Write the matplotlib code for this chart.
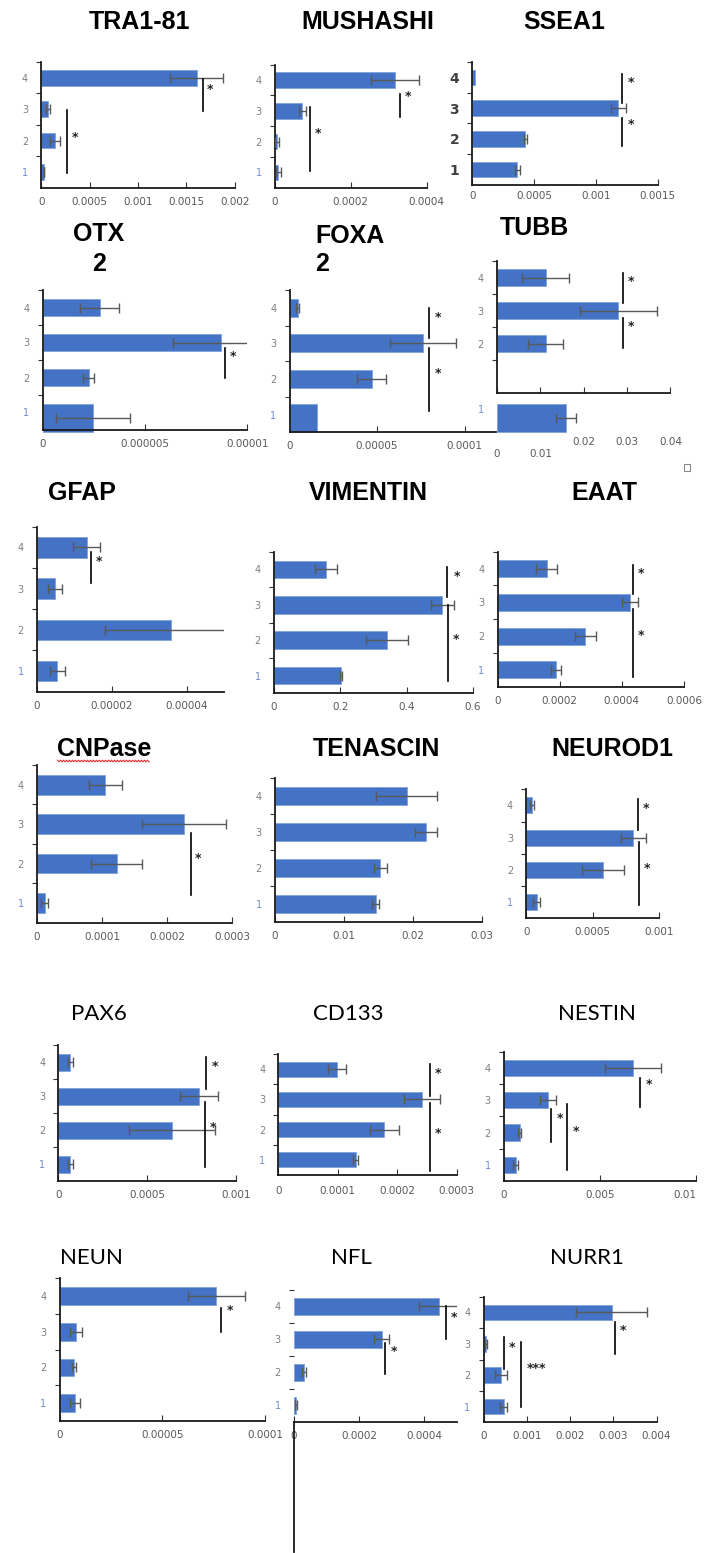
import matplotlib
matplotlib.use('Agg')
import matplotlib.pyplot as plt
import numpy as np

W, H, DPI = 704, 1553, 100

GROUPS = ['1', '2', '3', '4']

# ---- values for groups 1..4 ----
TRA1_81 = [0.000028, 0.000144, 0.000069, 0.001605]
TRA1_81_ERR = [0.000005, 0.000053, 0.00002, 0.00027]
MUSHASHI = [0.0000095, 0.0000058, 0.0000722, 0.000317]
MUSHASHI_ERR = [0.000006, 0.000006, 0.0000088, 0.000063]
SSEA1 = [0.000363, 0.000429, 0.00118, 0.000018]
SSEA1_ERR = [0.000022, 0.00001, 0.00006, 0.0]
OTX2 = [2.46e-6, 2.24e-6, 8.73e-6, 2.78e-6]
OTX2_ERR = [1.82e-6, 0.25e-6, 2.37e-6, 0.96e-6]
FOXA2 = [1.59e-5, 4.69e-5, 7.62e-5, 4.6e-6]
FOXA2_ERR = [0.0, 0.81e-5, 1.9e-5, 0.8e-6]
TUBB = [0.0159, 0.0112, 0.028, 0.0112]
TUBB_ERR = [0.0024, 0.004, 0.0088, 0.0055]
GFAP = [0.54e-5, 3.57e-5, 0.49e-5, 1.33e-5]
GFAP_ERR = [0.2e-5, 1.74e-5, 0.19e-5, 0.36e-5]
VIMENTIN = [0.203, 0.341, 0.508, 0.156]
VIMENTIN_ERR = [0.003, 0.063, 0.034, 0.033]
EAAT = [0.000188, 0.000282, 0.000426, 0.000158]
EAAT_ERR = [0.000015, 0.000034, 0.000025, 0.000034]
CNPASE = [0.0000124, 0.000123, 0.000226, 0.0001055]
CNPASE_ERR = [0.0000055, 0.000039, 0.000065, 0.000025]
TENASCIN = [0.0146, 0.0153, 0.0219, 0.0191]
TENASCIN_ERR = [0.00055, 0.0009, 0.0016, 0.0044]
NEUROD1 = [0.0000775, 0.000578, 0.000804, 0.0000437]
NEUROD1_ERR = [0.000025, 0.000157, 0.000094, 0.000015]
PAX6 = [0.0000682, 0.000641, 0.000792, 0.0000682]
PAX6_ERR = [0.000015, 0.00024, 0.000108, 0.000015]
CD133 = [0.00013, 0.000178, 0.000242, 0.0000983]
CD133_ERR = [0.000004, 0.0000246, 0.00003, 0.000015]
NESTIN = [0.00061, 0.00082, 0.00229, 0.00673]
NESTIN_ERR = [0.00015, 0.0001, 0.00043, 0.00145]
NEUN = [0.0000075, 0.000007, 0.0000081, 0.0000764]
NEUN_ERR = [0.0000025, 0.000001, 0.0000029, 0.000014]
NFL = [0.000007, 0.0000304, 0.000269, 0.000446]
NFL_ERR = [0.000003, 0.000005, 0.0000235, 0.000063]
NURR1 = [0.000467, 0.000396, 0.000053, 0.00296]
NURR1_ERR = [0.00008, 0.00014, 0.00003, 0.00082]

# ---- x-axis ticks ----
TRA1_81_TICKS = [0, 0.0005, 0.001, 0.0015, 0.002]
MUSHASHI_TICKS = [0, 0.0002, 0.0004]
SSEA1_TICKS = [0, 0.0005, 0.001, 0.0015]
OTX2_TICKS = [0, 0.000005, 0.00001]
FOXA2_TICKS = [0, 0.00005, 0.0001]
TUBB_TICKS = [0, 0.01, 0.02, 0.03, 0.04]
GFAP_TICKS = [0, 0.00002, 0.00004]
VIMENTIN_TICKS = [0, 0.2, 0.4, 0.6]
EAAT_TICKS = [0, 0.0002, 0.0004, 0.0006]
CNPASE_TICKS = [0, 0.0001, 0.0002, 0.0003]
TENASCIN_TICKS = [0, 0.01, 0.02, 0.03]
NEUROD1_TICKS = [0, 0.0005, 0.001]
PAX6_TICKS = [0, 0.0005, 0.001]
CD133_TICKS = [0, 0.0001, 0.0002, 0.0003]
NESTIN_TICKS = [0, 0.005, 0.01]
NEUN_TICKS = [0, 0.00005, 0.0001]
NFL_TICKS = [0, 0.0002, 0.0004]
NURR1_TICKS = [0, 0.001, 0.002, 0.003, 0.004]

# ---- significance brackets: (x, y_from, y_to, star_x, star_y, text) ----
TRA1_81_SIG = [(0.00167, 2.94, 3.96, 0.001744, 3.64, '*'), (0.00027, 0.965, 2.97, 0.000348, 2.11, '*')]
MUSHASHI_SIG = [(0.000329, 2.80, 3.55, 0.00035, 3.45, '*'), (0.0000922, 1.05, 3.125, 0.000114, 2.28, '*')]
SSEA1_SIG = [(0.00121, 3.18, 4.11, 0.001286, 3.82, '*'), (0.00121, 1.76, 2.69, 0.001286, 2.47, '*')]
OTX2_SIG = [(8.93e-6, 1.99, 2.85, 9.32e-6, 2.59, '*')]
FOXA2_SIG = [(7.95e-5, 3.14, 4.0, 8.46e-5, 3.74, '*'), (7.95e-5, 1.1, 2.88, 8.46e-5, 2.14, '*')]
TUBB_SIG = [(0.0291, 3.22, 4.13, 0.0309, 3.87, '*'), (0.0291, 1.86, 2.79, 0.0309, 2.52, '*')]
GFAP_SIG = [(1.45e-5, 3.13, 3.89, 1.65e-5, 3.65, '*')]
VIMENTIN_SIG = [(0.522, 3.23, 4.08, 0.553, 3.79, '*'), (0.526, 0.86, 2.99, 0.549, 2.03, '*')]
EAAT_SIG = [(0.000437, 3.25, 4.11, 0.000463, 3.84, '*'), (0.000437, 0.78, 2.79, 0.000463, 2.01, '*')]
CNPASE_SIG = [(0.000237, 1.2, 2.78, 0.000248, 2.13, '*')]
TENASCIN_SIG = []
NEUROD1_SIG = [(0.000838, 3.24, 4.2, 0.0009, 3.91, '*'), (0.000845, 0.91, 2.88, 0.000906, 2.05, '*')]
PAX6_SIG = [(0.000831, 3.2, 4.16, 0.000881, 3.86, '*'), (0.000828, 0.9, 2.83, 0.000874, 2.07, '*')]
CD133_SIG = [(0.000255, 3.12, 4.17, 0.000268, 3.84, '*'), (0.000255, 0.64, 2.88, 0.000268, 1.88, '*')]
NESTIN_SIG = [(0.00708, 2.8, 3.68, 0.00755, 3.49, '*'), (0.00248, 1.71, 2.73, 0.00292, 2.44, '*'),
              (0.00327, 0.84, 2.87, 0.00374, 2.02, '*')]
NEUN_SIG = [(0.0000788, 3.0, 3.66, 0.000083, 3.61, '*')]
NFL_SIG = [(0.000465, 3.0, 4.01, 0.000492, 3.67, '*'), (0.000279, 1.95, 2.9, 0.000306, 2.62, '*')]
NURR1_SIG = [(0.00304, 2.67, 3.7, 0.00323, 3.41, '*'), (0.000467, 2.19, 3.21, 0.000655, 2.89, '*'),
             (0.000863, 0.98, 3.05, 0.00123, 2.22, '***')]

PANELS = [
    ('TRA1-81', TRA1_81, TRA1_81_ERR, TRA1_81_SIG, TRA1_81_TICKS),
    ('MUSHASHI', MUSHASHI, MUSHASHI_ERR, MUSHASHI_SIG, MUSHASHI_TICKS),
    ('SSEA1', SSEA1, SSEA1_ERR, SSEA1_SIG, SSEA1_TICKS),
    ('OTX2', OTX2, OTX2_ERR, OTX2_SIG, OTX2_TICKS),
    ('FOXA2', FOXA2, FOXA2_ERR, FOXA2_SIG, FOXA2_TICKS),
    ('TUBB', TUBB, TUBB_ERR, TUBB_SIG, TUBB_TICKS),
    ('GFAP', GFAP, GFAP_ERR, GFAP_SIG, GFAP_TICKS),
    ('VIMENTIN', VIMENTIN, VIMENTIN_ERR, VIMENTIN_SIG, VIMENTIN_TICKS),
    ('EAAT', EAAT, EAAT_ERR, EAAT_SIG, EAAT_TICKS),
    ('CNPase', CNPASE, CNPASE_ERR, CNPASE_SIG, CNPASE_TICKS),
    ('TENASCIN', TENASCIN, TENASCIN_ERR, TENASCIN_SIG, TENASCIN_TICKS),
    ('NEUROD1', NEUROD1, NEUROD1_ERR, NEUROD1_SIG, NEUROD1_TICKS),
    ('PAX6', PAX6, PAX6_ERR, PAX6_SIG, PAX6_TICKS),
    ('CD133', CD133, CD133_ERR, CD133_SIG, CD133_TICKS),
    ('NESTIN', NESTIN, NESTIN_ERR, NESTIN_SIG, NESTIN_TICKS),
    ('NEUN', NEUN, NEUN_ERR, NEUN_SIG, NEUN_TICKS),
    ('NFL', NFL, NFL_ERR, NFL_SIG, NFL_TICKS),
    ('NURR1', NURR1, NURR1_ERR, NURR1_SIG, NURR1_TICKS),
]

# ---- layout (pixel boxes: left, top, right, bottom) ----
LAYOUT = {
    'TRA1-81': dict(box=(41.3, 62, 234.8, 187.7)),
    'MUSHASHI': dict(box=(274.8, 64.6, 426.6, 187.9)),
    'SSEA1': dict(box=(472.4, 62, 657.8, 185), xpad=4, bold_y=True),
    'OTX2': dict(box=(42.7, 290, 247.4, 430), pos=[0.84, 2, 3, 4], heights=[0.8, 0.5, 0.5, 0.5]),
    'FOXA2': dict(box=(289.6, 290, 496, 432.3), xmax=1.18e-4, pos=[0.9, 2, 3, 4], heights=[0.8, 0.5, 0.5, 0.5]),
    'TUBB': dict(box=(497.1, 261, 670.4, 393.3), pos=[-0.24, 2, 3, 4], heights=[0.85, 0.5, 0.5, 0.5],
                 xpad=31.5, shifted=[0, 1], ylabel_one=0.0),
    'GFAP': dict(box=(36.8, 526.7, 223.6, 691.7), xmax=4.98e-5),
    'VIMENTIN': dict(box=(273.9, 551.7, 472.8, 693.3)),
    'EAAT': dict(box=(497.5, 551.7, 683.9, 686.7)),
    'CNPase': dict(box=(36.8, 765, 232.1, 922.7)),
    'TENASCIN': dict(box=(274.8, 778.3, 481.8, 921.7)),
    'NEUROD1': dict(box=(526.3, 789.3, 659.2, 918.3)),
    'PAX6': dict(box=(58.4, 1045, 235.7, 1181)),
    'CD133': dict(box=(278.4, 1054, 456.7, 1175), xpad=8),
    'NESTIN': dict(box=(503.8, 1051.7, 696, 1181), last_right=True),
    'NEUN': dict(box=(59.7, 1278.3, 264.9, 1421)),
    'NFL': dict(box=(294.1, 1289.8, 456.9, 1422), xmax=0.0005, long_axis=1552),
    'NURR1': dict(box=(483.6, 1296.7, 656.5, 1422.3)),
}

TITLES_BOLD = [('TRA1-81', 139.2, 21.7), ('MUSHASHI', 367.5, 21.7), ('SSEA1', 564.2, 21.7),
               ('OTX', 98.4, 234), ('2', 98.8, 264), ('FOXA', 350, 235.7), ('2', 321.7, 264),
               ('TUBB', 534.3, 227.7), ('GFAP', 82.4, 493.3), ('VIMENTIN', 368.2, 493.3),
               ('EAAT', 604, 493.3), ('CNPase', 104, 749.3), ('TENASCIN', 376, 749.3),
               ('NEUROD1', 612.3, 749.3)]
TITLES_LIGHT = [('PAX6', 99.2, 1014), ('CD133', 348.5, 1014), ('NESTIN', 597.2, 1014),
                ('NEUN', 91.6, 1258.3), ('NFL', 351.4, 1258.3), ('NURR1', 586.9, 1258.3)]

BAR = '#4472C4'
EDGE = '#7FA3DC'
ERRC = '#595959'
TICKC = '#595959'
YLABC = '#7F7F7F'
ONEC = '#6F8FCA'


def fmt(v):
    return np.format_float_positional(v, trim='-')


fig = plt.figure(figsize=(W / DPI, H / DPI), dpi=DPI)
fig.patch.set_facecolor('white')

for name, vals, errs, sigs, ticks in PANELS:
    lay = LAYOUT[name]
    L, T, R, B = lay['box']
    ax = fig.add_axes([L / W, 1 - B / H, (R - L) / W, (B - T) / H])
    ax.set_facecolor('none')
    pos = lay.get('pos', [1, 2, 3, 4])
    hts = lay.get('heights', [0.5] * 4)
    ax.set_xlim(0, lay.get('xmax', ticks[-1]))
    ax.set_ylim(0.5, 4.5)
    bars = ax.barh(pos, vals, height=hts, color=BAR, edgecolor=EDGE, linewidth=0.6, zorder=2)
    for b in bars:
        b.set_clip_on(False)
    for p, v, e in zip(pos, vals, errs):
        if e <= 0:
            continue
        inside = 0.5 <= p <= 4.5
        eb = ax.errorbar(v, p, xerr=e, fmt='none', ecolor=ERRC, elinewidth=1.0,
                         capsize=3.5, capthick=1.0, zorder=3)
        for a in eb.lines[1]:
            a.set_clip_on(inside)
        for c in eb.lines[2]:
            c.set_clip_on(inside)
    for (x, y0, y1, xs, ys, lab) in sigs:
        ax.plot([x, x], [y0, y1], color='black', lw=1.2, clip_on=False, zorder=4)
        ax.text(xs, ys, lab, ha='center', va='center', fontsize=9, fontweight='bold',
                color='#222222', clip_on=False, zorder=4)

    # spines
    for s in ['top', 'right']:
        ax.spines[s].set_visible(False)
    for s in ['left', 'bottom']:
        ax.spines[s].set_linewidth(1.3)
        ax.spines[s].set_color('#1a1a1a')

    # x ticks
    ax.set_xticks(ticks)
    labels = [fmt(t) for t in ticks]
    for i in lay.get('shifted', []):
        labels[i] = '\n' + labels[i]
    ax.set_xticklabels(labels)
    ax.tick_params(axis='x', direction='in', length=4, width=0.8, pad=lay.get('xpad', 6.5),
                   labelsize=7.5, labelcolor=TICKC, color='#333333')
    if lay.get('last_right'):
        ax.get_xticklabels()[-1].set_horizontalalignment('right')

    # y ticks: labels at category centers, marks at band boundaries
    if 'ylabel_one' in lay:
        ax.set_yticks([2, 3, 4])
        ax.set_yticklabels(GROUPS[1:])
        ax.annotate(GROUPS[0], xy=(0, lay['ylabel_one']), xycoords=('axes fraction', 'data'),
                    xytext=(-9.5, 0), textcoords='offset points', ha='right', va='center',
                    fontsize=7, color=ONEC, annotation_clip=False)
    else:
        ax.set_yticks([1, 2, 3, 4])
        ax.set_yticklabels(GROUPS)
    ax.set_yticks([1.5, 2.5, 3.5, 4.5], minor=True)
    ax.tick_params(axis='y', which='minor', direction='out', length=3.5, width=0.8, color='#333333')
    if lay.get('bold_y'):
        ax.tick_params(axis='y', which='major', length=0, pad=9.5, labelsize=10, labelcolor='#404040')
        for t in ax.get_yticklabels():
            t.set_fontweight('bold')
    else:
        ax.tick_params(axis='y', which='major', length=0, pad=9.5, labelsize=7, labelcolor=YLABC)
        if 'ylabel_one' not in lay:
            ax.get_yticklabels()[0].set_color(ONEC)

    if 'long_axis' in lay:
        ax.spines['left'].set_visible(False)
        ylow = 0.5 - (lay['long_axis'] - B) / ((B - T) / 4.0)
        ax.plot([0, 0], [0.5, ylow], color='#1a1a1a', lw=1.3, clip_on=False)

# overlay in pixel coordinates for titles and decorations
ov = fig.add_axes([0, 0, 1, 1])
ov.set_xlim(0, W)
ov.set_ylim(H, 0)
ov.axis('off')
ov.set_zorder(10)

for txt, x, y in TITLES_BOLD:
    ov.text(x, y, txt, ha='center', va='center', fontsize=18, fontweight='bold',
            family=['Liberation Sans', 'DejaVu Sans'], color='black')
for txt, x, y in TITLES_LIGHT:
    ov.text(x, y, txt, ha='center', va='center', fontsize=16,
            family=['Lato', 'DejaVu Sans'], color='black')

# spell-check squiggle under "CNPase"
sx = np.arange(57.5, 150.5, 1.5)
sy = 761 + np.where(np.arange(len(sx)) % 2 == 0, -0.8, 0.8)
ov.plot(sx, sy, color='#E03030', lw=0.8)

# small hollow square
ov.add_patch(plt.Rectangle((684, 464), 6, 7, fill=False, edgecolor='#888888', lw=0.8))

fig.savefig('out.png', dpi=DPI, facecolor='white')
